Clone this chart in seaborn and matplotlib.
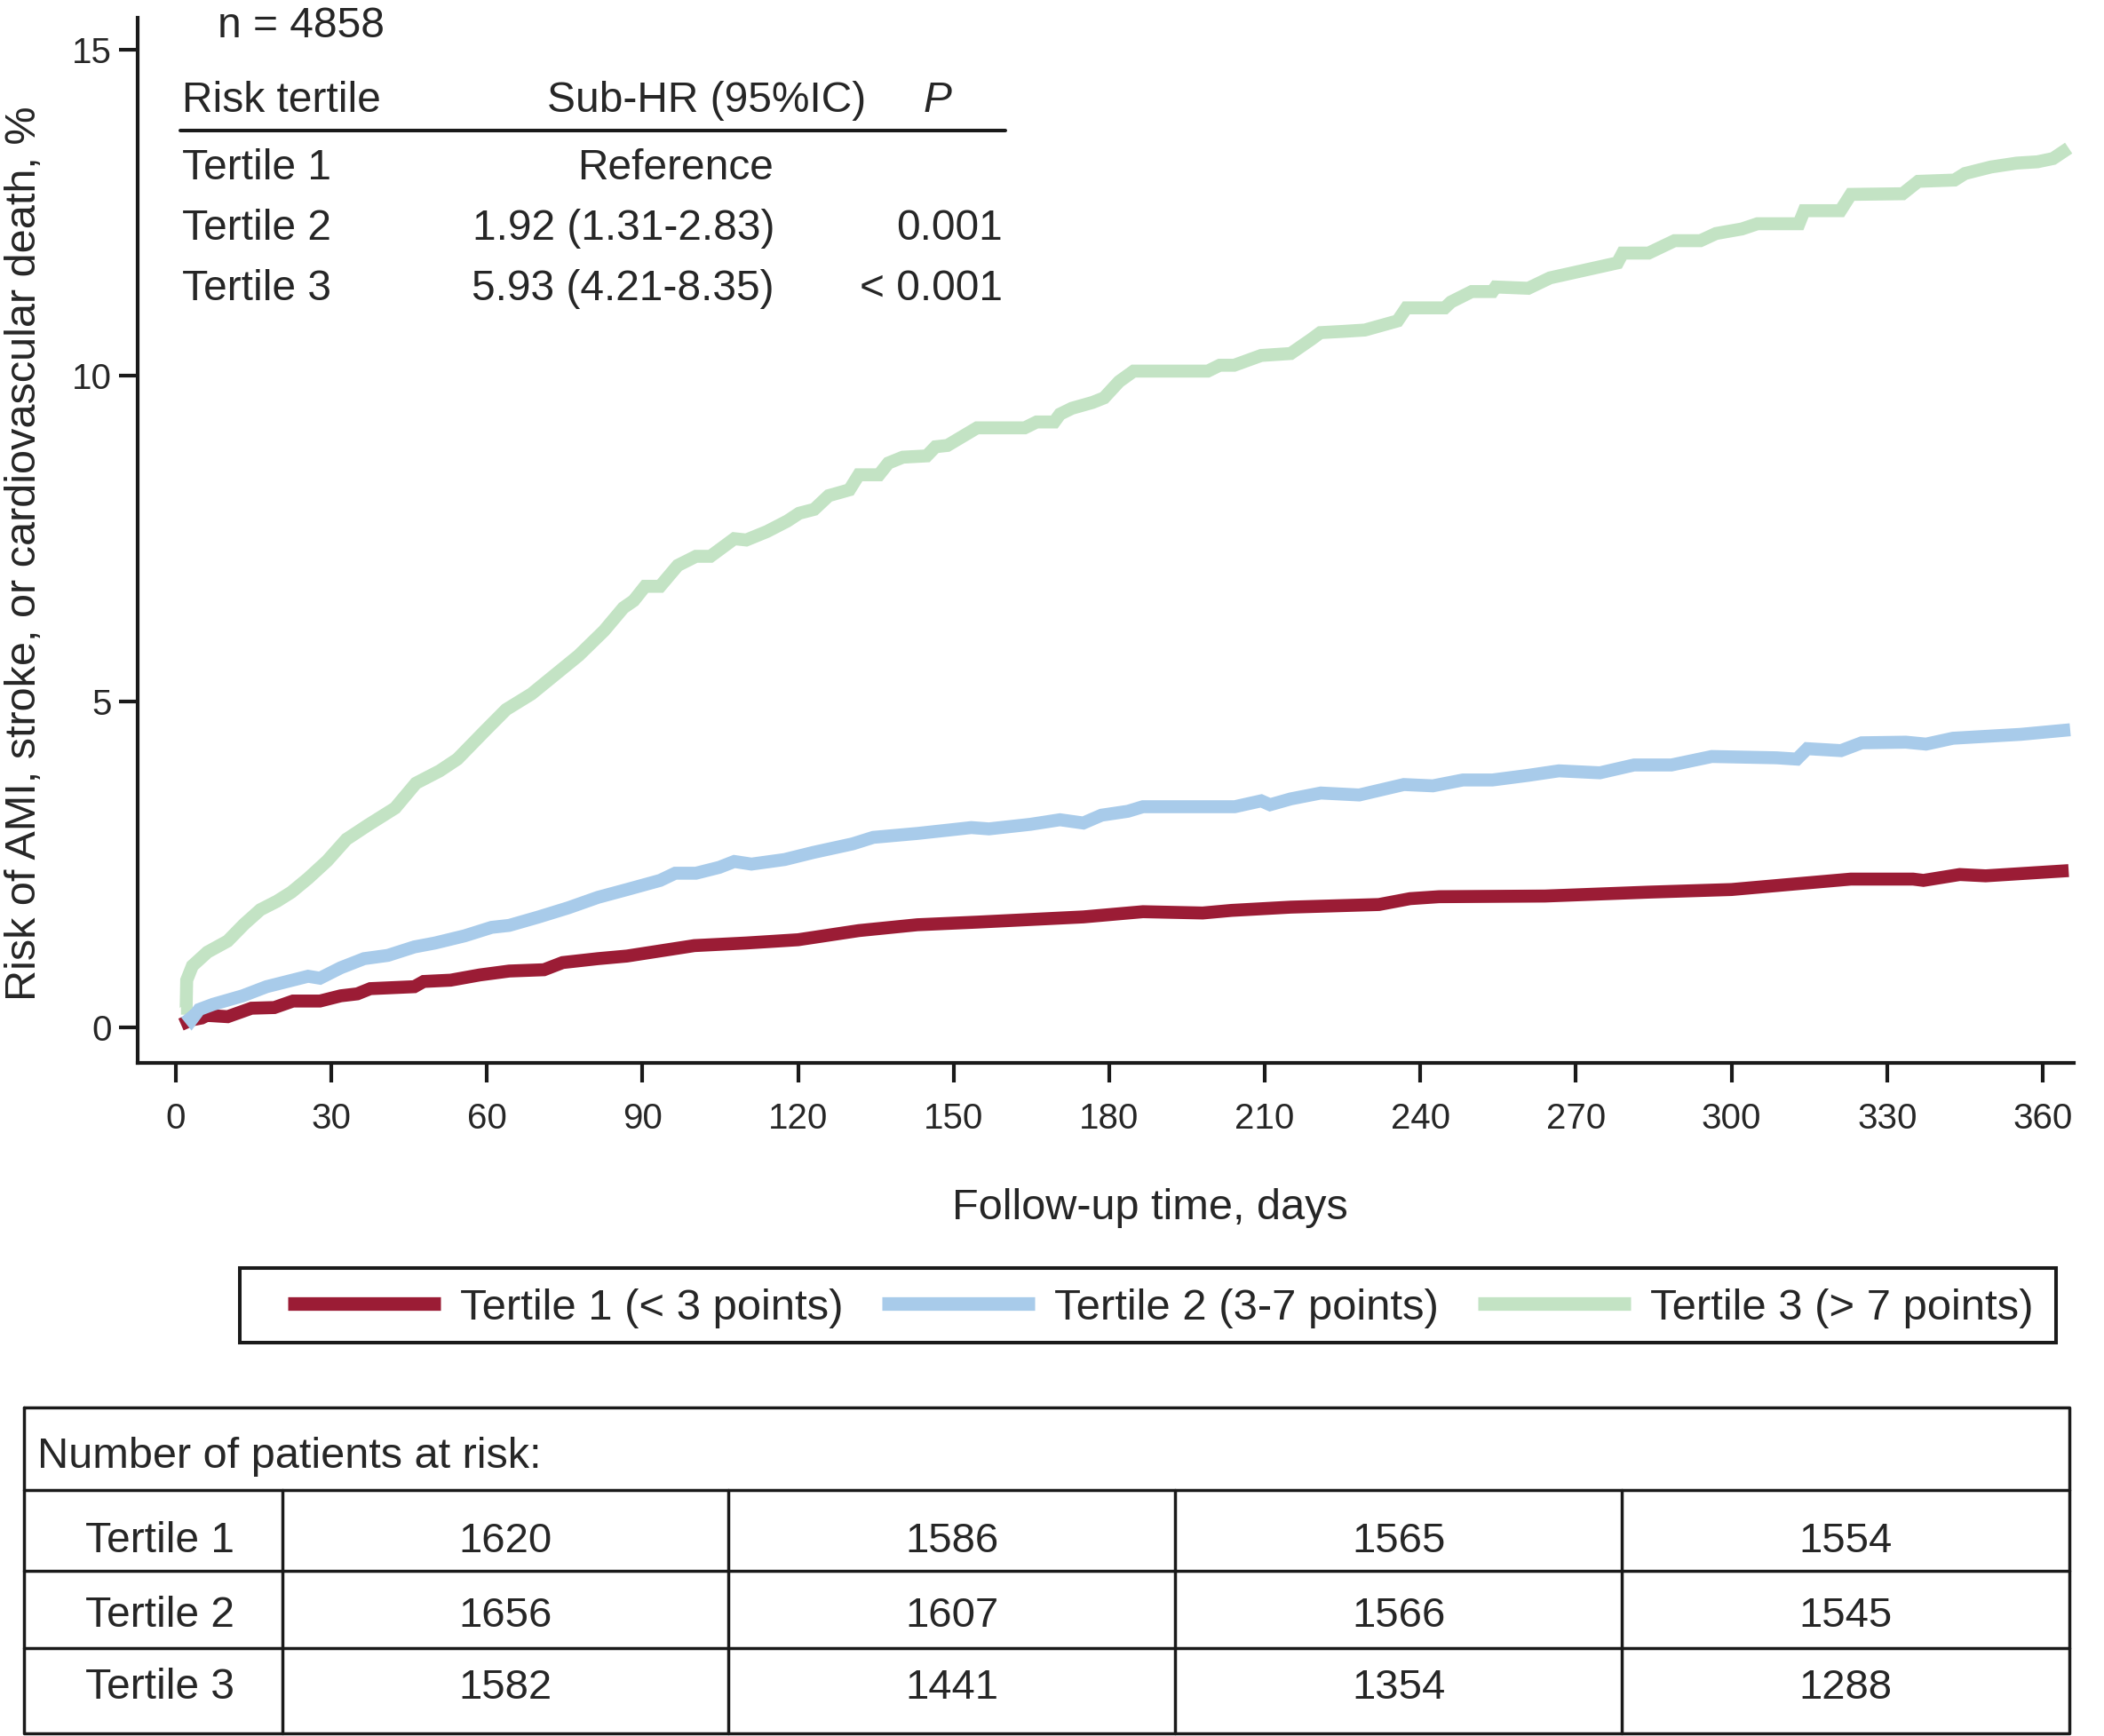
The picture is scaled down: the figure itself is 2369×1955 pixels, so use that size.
import pandas as pd
import seaborn as sns
import matplotlib.pyplot as plt
from matplotlib.lines import Line2D
from matplotlib.patches import Rectangle

# cumulative incidence (day, %)
t1_days = [1, 3, 5, 6, 10, 14.6, 19, 22.6, 27.8, 31.8, 35, 37.5, 46, 47.8, 53, 58.6, 64.3, 71,
           74.6, 81.4, 87, 100, 110, 120, 131.7, 143, 154.5, 175, 186.5, 198, 203.6, 215, 232,
           238, 243.6, 264, 284, 300, 310, 323, 335, 337, 344, 349, 365]
t1_risk = [0.05, 0.12, 0.15, 0.19, 0.17, 0.30, 0.31, 0.41, 0.41, 0.49, 0.52, 0.60, 0.63, 0.71,
           0.73, 0.81, 0.87, 0.89, 1.00, 1.06, 1.10, 1.26, 1.30, 1.35, 1.49, 1.58, 1.62, 1.70,
           1.78, 1.76, 1.80, 1.85, 1.89, 1.98, 2.01, 2.02, 2.08, 2.12, 2.19, 2.28, 2.28, 2.26,
           2.35, 2.33, 2.41]

t2_days = [2, 3, 4.5, 7.2, 12.9, 17.5, 21.5, 25.5, 27.8, 31.8, 36.3, 40.9, 46, 50, 55.7, 60.9,
           64.3, 70, 75.7, 81.4, 87, 93.4, 96.3, 100.3, 104.8, 107.7, 111, 117.4, 123, 130.5,
           134.5, 143, 148.8, 153.4, 156.8, 164.8, 170.5, 175, 178.5, 183.6, 186.5, 204.2,
           209.3, 211, 215, 220.8, 228.2, 236.8, 242.4, 248.2, 253.9, 260.7, 266.7, 274.6,
           281.2, 288.4, 296.2, 308.7, 312.6, 314.6, 321.1, 325.1, 333.6, 337.5, 342.7, 355.8,
           365.3]
t2_risk = [0.22, 0.12, 0.28, 0.36, 0.49, 0.63, 0.71, 0.79, 0.76, 0.92, 1.06, 1.11, 1.24, 1.30,
           1.41, 1.54, 1.57, 1.70, 1.84, 2.00, 2.12, 2.26, 2.37, 2.37, 2.46, 2.55, 2.51, 2.58,
           2.69, 2.82, 2.92, 2.98, 3.03, 3.07, 3.05, 3.12, 3.19, 3.14, 3.26, 3.32, 3.39, 3.39,
           3.48, 3.42, 3.51, 3.60, 3.57, 3.73, 3.71, 3.80, 3.80, 3.87, 3.94, 3.91, 4.03, 4.03,
           4.16, 4.14, 4.12, 4.28, 4.25, 4.37, 4.38, 4.35, 4.44, 4.50, 4.57]

t3_days = [1, 2.0, 2.1, 3.2, 6.1, 10, 13.2, 16.3, 19.5, 22.3, 25.5, 29.2, 32.9, 36.9, 42.3,
           46.3, 50.9, 54.3, 59.7, 63.7, 68.6, 72.3, 77.7, 82.6, 86.3, 88.3, 90.5, 93.4, 96.8,
           100.3, 103.1, 107.7, 110, 114, 117.9, 120.2, 123.1, 125.9, 129.9, 131.7, 135.6,
           137.4, 140.2, 144.8, 146.5, 148.8, 154.5, 163.7, 166, 169.4, 170.5, 172.8, 176.8,
           179, 181.9, 184.7, 199, 201.3, 204.1, 209.3, 215, 219, 220.7, 225.3, 229.3, 235.6,
           237.3, 244.7, 245.9, 249.9, 253.9, 254.5, 260.8, 265, 278, 279, 284, 289, 294, 297,
           302, 305, 313, 314, 321, 323, 333, 336, 343, 345, 350, 355, 359, 362, 365]
t3_risk = [0.30, 0.30, 0.73, 0.95, 1.16, 1.33, 1.59, 1.81, 1.94, 2.08, 2.29, 2.56, 2.89, 3.10,
           3.37, 3.75, 3.94, 4.12, 4.56, 4.88, 5.12, 5.36, 5.71, 6.09, 6.44, 6.55, 6.77, 6.77,
           7.09, 7.23, 7.23, 7.50, 7.48, 7.61, 7.77, 7.89, 7.95, 8.16, 8.25, 8.48, 8.48, 8.66,
           8.75, 8.77, 8.91, 8.93, 9.20, 9.20, 9.29, 9.29, 9.41, 9.50, 9.59, 9.66, 9.91, 10.07,
           10.07, 10.16, 10.16, 10.31, 10.34, 10.56, 10.66, 10.68, 10.70, 10.84, 11.04, 11.04,
           11.13, 11.29, 11.29, 11.36, 11.34, 11.50, 11.73, 11.88, 11.88, 12.07, 12.07, 12.18,
           12.25, 12.33, 12.33, 12.53, 12.53, 12.78, 12.79, 12.98, 13.00, 13.10, 13.20, 13.26,
           13.28, 13.33, 13.49]

legend_labels = ['Tertile 1 (< 3 points)', 'Tertile 2 (3-7 points)', 'Tertile 3 (> 7 points)']
colors = ['#9b1c35', '#a8cbea', '#c3e3c4']

# sub-distribution HR box
hr_rows = ['Tertile 1', 'Tertile 2', 'Tertile 3']
hr_values = ['Reference', '1.92 (1.31-2.83)', '5.93 (4.21-8.35)']
hr_pvalues = ['', '0.001', '< 0.001']

# number at risk table
risk_rows = ['Tertile 1', 'Tertile 2', 'Tertile 3']
at_risk = [[1620, 1586, 1565, 1554],
           [1656, 1607, 1566, 1545],
           [1582, 1441, 1354, 1288]]

df = pd.concat([
    pd.DataFrame({'day': t1_days, 'risk': t1_risk, 'tertile': legend_labels[0]}),
    pd.DataFrame({'day': t2_days, 'risk': t2_risk, 'tertile': legend_labels[1]}),
    pd.DataFrame({'day': t3_days, 'risk': t3_risk, 'tertile': legend_labels[2]}),
])

sns.set_style('ticks')
plt.rcParams['font.family'] = ['Liberation Sans', 'DejaVu Sans']
ink = '#1a1a1a'

fig = plt.figure(figsize=(23.69, 19.55), dpi=100)
ax = fig.add_axes([0.06556, 0.38772, 0.9201, 0.6021])

palette = dict(zip(legend_labels, colors))
sns.lineplot(data=df, x='day', y='risk', hue='tertile', palette=palette,
             hue_order=[legend_labels[0], legend_labels[2], legend_labels[1]],
             estimator=None, sort=False, linewidth=10.5, legend=False, ax=ax,
             solid_capstyle='butt', solid_joinstyle='miter')

ax.set_xlim(-7.3, 366)
ax.set_ylim(-0.539, 15.49)
ax.set_xticks(range(0, 361, 30))
ax.set_yticks([0, 5, 10, 15])
sns.despine(ax=ax)
for side in ['left', 'bottom']:
    ax.spines[side].set_linewidth(3)
    ax.spines[side].set_color(ink)
ax.tick_params(axis='x', length=16, width=3, pad=16, labelsize=29, color=ink)
ax.tick_params(axis='y', length=15, width=3, pad=6, labelsize=29, color=ink)

ax.set_xlabel('Follow-up time, days', fontsize=35, va='center')
ax.xaxis.set_label_coords(0.5467, 0.304, transform=fig.transFigure)
ax.set_ylabel('Risk of AMI, stroke, or cardiovascular death, %', fontsize=35, va='center')
ax.yaxis.set_label_coords(0.0115, 0.681, transform=fig.transFigure)

# inset with sub-HR estimates
fs_box = 34.5
fig.text(0.1034, 0.9785, 'n = 4858', fontsize=fs_box, va='baseline')
fig.text(0.0866, 0.9355, 'Risk tertile', fontsize=fs_box, va='baseline')
fig.text(0.2600, 0.9355, 'Sub-HR (95%IC)', fontsize=fs_box, va='baseline')
fig.text(0.4390, 0.9355, 'P', fontsize=fs_box, va='baseline', style='italic')
fig.add_artist(Line2D([0.0857, 0.4778], [0.9250, 0.9250], transform=fig.transFigure,
                      color=ink, lw=2.9))
row_base = [0.8967, 0.8619, 0.8271]
for name, hr, p, yb in zip(hr_rows, hr_values, hr_pvalues, row_base):
    fig.text(0.0866, yb, name, fontsize=fs_box, va='baseline')
    if p == '':
        fig.text(0.3212, yb, hr, fontsize=fs_box, va='baseline', ha='center')
    else:
        fig.text(0.3681, yb, hr, fontsize=fs_box, va='baseline', ha='right')
        fig.text(0.4764, yb, p, fontsize=fs_box, va='baseline', ha='right')

# legend in a separate frame
handles = [Line2D([], [], color=c, lw=11, solid_capstyle='butt') for c in colors]
fig.legend(handles, legend_labels, loc='center left', bbox_to_anchor=(0.1368, 0.2465),
           ncol=3, frameon=False, fontsize=35.3, handlelength=3.5, handletextpad=0.45,
           columnspacing=0.9, borderpad=0, borderaxespad=0)
fig.add_artist(Rectangle((0.1140, 0.2266), 0.8632, 0.0430, transform=fig.transFigure,
                         fill=False, lw=2.9, ec=ink))

# number at risk table
tab = fig.add_axes([0.0114, 0.00153, 0.9722, 0.1877])
tab.set_xlim(0, 2303)
tab.set_ylim(367, 0)
tab.axis('off')
col_edges = [0, 290.5, 793, 1296, 1799, 2303]
row_edges = [0, 93, 184, 271, 367]
tab.plot([0, 2303, 2303, 0, 0], [0, 0, 367, 367, 0], color=ink, lw=2.5, clip_on=False)
for y in row_edges[1:-1]:
    tab.plot([0, 2303], [y, y], color=ink, lw=2.5, clip_on=False)
for x in col_edges[1:-1]:
    tab.plot([x, x], [93, 367], color=ink, lw=2.5, clip_on=False)
tab.text(15, 68, 'Number of patients at risk:', fontsize=35, va='baseline')
text_base = [163, 247, 328]
for i, name in enumerate(risk_rows):
    tab.text(153, text_base[i], name, fontsize=34.5, va='baseline', ha='center')
    for j, n in enumerate(at_risk[i]):
        xc = (col_edges[j + 1] + col_edges[j + 2]) / 2
        tab.text(xc, text_base[i], str(n), fontsize=34, va='baseline', ha='center')

fig.savefig('out.png', dpi=100)
